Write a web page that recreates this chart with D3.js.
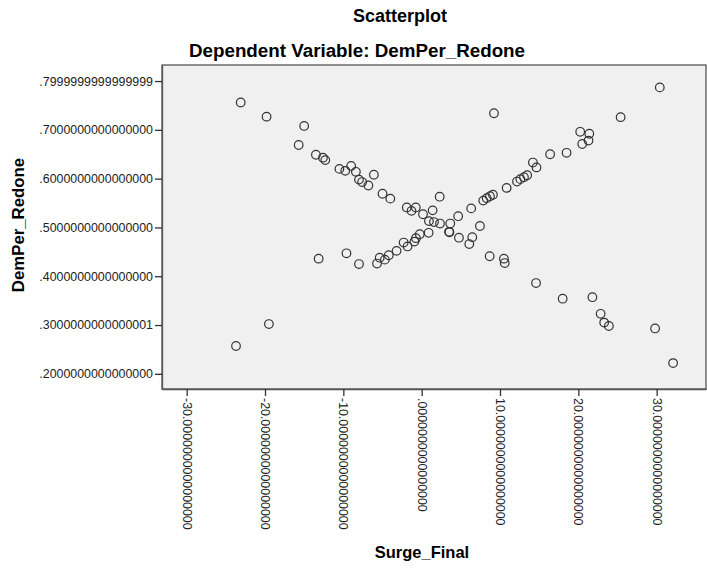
<!DOCTYPE html>
<html>
<head>
<meta charset="utf-8">
<script src="https://cdn.jsdelivr.net/npm/d3@7"></script>
<style>
  body { margin: 0; background: #fff; }
  svg { display: block; font-family: "Liberation Sans", Arial, sans-serif; }
</style>
</head>
<body>
<div id="chart"></div>
<script>
"use strict";

// Surge_Final (x) and DemPer_Redone (y)
const surgeFinal = [
  -23.1, -19.8, -15.0, -15.7, -13.5, -12.6, -12.3, -10.5, -9.75, -9.0,
  -8.4, -8.0, -7.6, -6.8, -6.1, -5.0, -4.0, -1.9, -1.3, -0.75,
  0.17, 1.4, 2.3, 0.93, 1.57, 2.34, 3.65, 4.66, 3.5, 3.55,
  4.76, 6.46, 6.08, 7.44, 8.68, 10.5, 10.6, 14.6, 18.0, 21.8,
  22.85, 23.3, 23.9, 29.8, 32.1,
  -23.7, -19.5, -13.15, -9.6, -8.0, -5.7, -5.36, -4.7, -4.2, -3.2,
  -2.3, -1.8, -0.92, -0.73, -0.24, 0.89, 6.32, 7.86, 8.3, 8.72,
  9.1, 10.85, 12.17, 12.6, 13.06, 13.47, 14.2, 14.66, 16.4, 18.5,
  20.24, 21.4, 21.3, 20.5, 25.4, 30.4, 9.23
];
const demPerRedone = [
  0.756, 0.727, 0.708, 0.669, 0.649, 0.643, 0.638, 0.620, 0.616, 0.626,
  0.614, 0.598, 0.593, 0.586, 0.608, 0.569, 0.559, 0.541, 0.534, 0.541,
  0.527, 0.535, 0.563, 0.513, 0.511, 0.508, 0.508, 0.523, 0.491, 0.490,
  0.479, 0.480, 0.466, 0.503, 0.441, 0.436, 0.427, 0.386, 0.354, 0.357,
  0.323, 0.305, 0.298, 0.293, 0.222,
  0.257, 0.302, 0.436, 0.447, 0.425, 0.426, 0.438, 0.434, 0.443, 0.452,
  0.469, 0.461, 0.471, 0.478, 0.486, 0.489, 0.539, 0.555, 0.560, 0.564,
  0.567, 0.581, 0.594, 0.599, 0.603, 0.607, 0.633, 0.623, 0.650, 0.653,
  0.696, 0.692, 0.678, 0.671, 0.726, 0.787, 0.734
];

const xTickValues = [-30, -20, -10, 0, 10, 20, 30];
const xTickLabels = [
  "-30.0000000000000000", "-20.0000000000000000", "-10.0000000000000000",
  ".0000000000000000", "10.0000000000000000", "20.0000000000000000",
  "30.0000000000000000"
];
const yTickValues = [0.2, 0.3, 0.4, 0.5, 0.6, 0.7, 0.8];
const yTickLabels = [
  ".2000000000000000", ".3000000000000001", ".4000000000000000",
  ".5000000000000000", ".6000000000000000", ".7000000000000000",
  ".7999999999999999"
];

const width = 707, height = 569;
const margin = { top: 65, right: 1, bottom: 180, left: 162 };
const plotW = width - margin.left - margin.right;
const plotH = height - margin.top - margin.bottom;

const svg = d3.select("#chart").append("svg")
  .attr("width", width)
  .attr("height", height);

const x = d3.scaleLinear().domain([-33.15, 36.3]).range([0, plotW]);
const y = d3.scaleLinear().domain([0.1689, 0.8329]).range([plotH, 0]);

const g = svg.append("g")
  .attr("transform", "translate(" + margin.left + "," + margin.top + ")");

// plot background + frame
g.append("rect")
  .attr("width", plotW)
  .attr("height", plotH)
  .attr("fill", "#f0f0f0")
  .attr("stroke", "#555")
  .attr("stroke-width", 1.3);

// y axis
const yAxis = g.append("g")
  .call(d3.axisLeft(y)
    .tickValues(yTickValues)
    .tickSize(7)
    .tickSizeOuter(0)
    .tickPadding(2)
    .tickFormat((d, i) => yTickLabels[i]));
yAxis.select(".domain").attr("stroke", "#555").attr("stroke-width", 1.3);
yAxis.selectAll(".tick line").attr("stroke", "#333").attr("stroke-width", 1.3);
yAxis.selectAll(".tick text")
  .attr("fill", "#222")
  .style("font-size", "12.4px");

// x axis, labels turned to read downwards
const xAxis = g.append("g")
  .attr("transform", "translate(0," + plotH + ")")
  .call(d3.axisBottom(x)
    .tickValues(xTickValues)
    .tickSize(7)
    .tickSizeOuter(0)
    .tickFormat((d, i) => xTickLabels[i]));
xAxis.select(".domain").attr("stroke", "#555").attr("stroke-width", 1.3);
xAxis.selectAll(".tick line").attr("stroke", "#333").attr("stroke-width", 1.3);
xAxis.selectAll(".tick text")
  .attr("fill", "#222")
  .style("font-size", "12.4px")
  .attr("text-anchor", "start")
  .attr("dy", "0.35em")
  .attr("x", 0)
  .attr("y", 0)
  .attr("transform", "translate(0,9) rotate(90)");

// points
g.append("g")
  .selectAll("circle")
  .data(surgeFinal.map((v, i) => [v, demPerRedone[i]]))
  .join("circle")
    .attr("cx", d => x(d[0]))
    .attr("cy", d => y(d[1]))
    .attr("r", 4.3)
    .attr("fill", "none")
    .attr("stroke", "#333")
    .attr("stroke-width", 1.2);

// titles
svg.append("text")
  .attr("x", 400).attr("y", 22)
  .attr("text-anchor", "middle")
  .style("font-size", "18px").style("font-weight", "bold")
  .text("Scatterplot");

svg.append("text")
  .attr("x", 357).attr("y", 57)
  .attr("text-anchor", "middle")
  .style("font-size", "18.8px").style("font-weight", "bold")
  .text("Dependent Variable: DemPer_Redone");

svg.append("text")
  .attr("x", 422).attr("y", 558)
  .attr("text-anchor", "middle")
  .style("font-size", "16.5px").style("font-weight", "bold")
  .text("Surge_Final");

svg.append("text")
  .attr("transform", "translate(24,225) rotate(-90)")
  .attr("text-anchor", "middle")
  .style("font-size", "16.8px").style("font-weight", "bold")
  .text("DemPer_Redone");
</script>
</body>
</html>
